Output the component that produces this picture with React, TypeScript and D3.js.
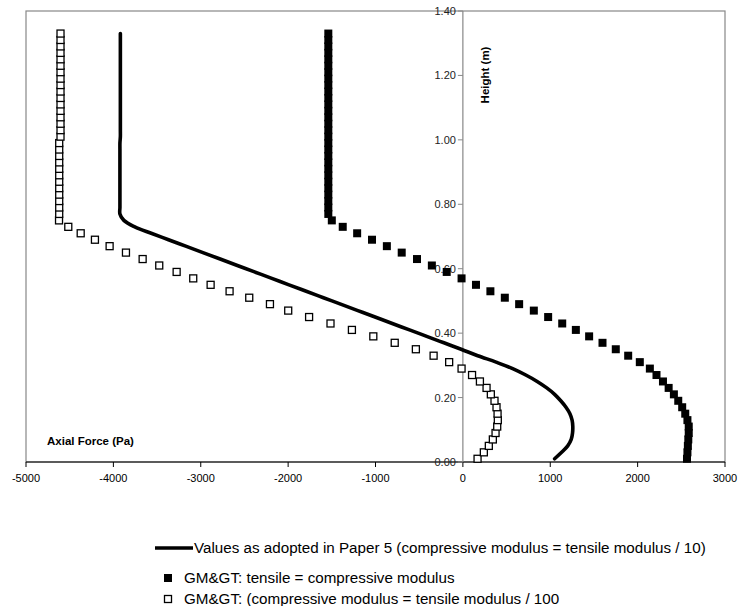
import React from "react";
import * as d3 from "d3";

const heights = [0.01,0.03,0.05,0.07,0.09,0.11,0.13,0.15,0.17,0.19,0.21,0.23,0.25,0.27,0.29,0.31,0.33,0.35,0.37,0.39,0.41,0.43,0.45,0.47,0.49,0.51,0.53,0.55,0.57,0.59,0.61,0.63,0.65,0.67,0.69,0.71,0.73,0.75,0.77,0.79,0.81,0.83,0.85,0.87,0.89,0.91,0.93,0.95,0.97,0.99,1.01,1.03,1.05,1.07,1.09,1.11,1.13,1.15,1.17,1.19,1.21,1.23,1.25,1.27,1.29,1.31,1.33];

const paper5 = [1050,1130,1200,1240,1255,1258,1250,1225,1180,1120,1050,960,850,720,570,380,170,-20,-217,-414,-611,-808,-1005,-1202,-1399,-1596,-1793,-1990,-2187,-2384,-2581,-2778,-2975,-3172,-3369,-3567,-3755,-3880,-3925,-3925,-3925,-3925,-3925,-3925,-3925,-3925,-3925,-3925,-3925,-3925,-3920,-3920,-3920,-3920,-3920,-3920,-3920,-3920,-3920,-3920,-3920,-3920,-3920,-3920,-3920,-3920,-3920];

const tensileEq = [2565,2570,2575,2580,2585,2585,2570,2545,2510,2465,2415,2355,2290,2216,2140,2025,1892,1750,1598,1445,1293,1137,976,812,644,480,315,150,-15,-185,-355,-525,-700,-870,-1040,-1210,-1375,-1500,-1540,-1540,-1540,-1540,-1540,-1540,-1540,-1540,-1540,-1540,-1540,-1540,-1540,-1540,-1540,-1540,-1540,-1540,-1540,-1540,-1540,-1540,-1540,-1540,-1540,-1540,-1540,-1540,-1540];

const compHundredth = [168,240,297,343,374,393,400,397,385,362,320,271,195,105,-15,-157,-335,-538,-780,-1025,-1270,-1515,-1760,-1999,-2208,-2445,-2670,-2887,-3086,-3276,-3475,-3665,-3856,-4043,-4211,-4374,-4516,-4622,-4620,-4620,-4620,-4620,-4620,-4620,-4620,-4620,-4620,-4620,-4620,-4620,-4605,-4605,-4605,-4605,-4605,-4605,-4605,-4605,-4605,-4605,-4605,-4605,-4605,-4605,-4605,-4605,-4605];

const xTicks = [-5000,-4000,-3000,-2000,-1000,0,1000,2000,3000];
const yTicks = [0,0.2,0.4,0.6,0.8,1.0,1.2,1.4];

const legendLabels = [
  "Values as adopted in Paper 5 (compressive modulus = tensile modulus / 10)",
  "GM&GT: tensile = compressive modulus",
  "GM&GT: (compressive modulus = tensile modulus / 100",
];

const FONT = "'Liberation Sans', Arial, sans-serif";

export default function App() {
  const W = 739, H = 606;
  const x = d3.scaleLinear().domain([-5000, 3000]).range([26, 725]);
  const y = d3.scaleLinear().domain([0, 1.4]).range([462, 11]);
  const x0 = x(0);

  const linePts: [number, number][] = heights.map((h, i) => [paper5[i], h]);
  const lineGen = d3.line<[number, number]>()
    .x(d => x(d[0]))
    .y(d => y(d[1]))
    .curve(d3.curveCatmullRom);

  const sq = 8;
  const hsq = 7;

  return (
    <svg width={W} height={H} style={{ position: "absolute", left: 0, top: 0, background: "#fff" }} fontFamily={FONT}>
      {/* plot frame */}
      <rect x={26} y={11} width={725 - 26} height={462 - 11} fill="none" stroke="#888" strokeWidth={1.2} />
      {/* x axis */}
      <line x1={26} x2={725} y1={462} y2={462} stroke="#000" strokeWidth={1.2} />
      {xTicks.map(t => (
        <g key={"xt" + t}>
          <line x1={x(t)} x2={x(t)} y1={462} y2={467} stroke="#000" />
          <text x={x(t)} y={482} fontSize={11} textAnchor="middle" fill="#000">{t}</text>
        </g>
      ))}
      {/* y axis */}
      <line x1={x0} x2={x0} y1={11} y2={462} stroke="#888" strokeWidth={1.2} />
      {yTicks.map(t => (
        <g key={"yt" + t}>
          <line x1={x0 - 5} x2={x0} y1={y(t)} y2={y(t)} stroke="#888" />
          <text x={x0 - 7} y={y(t) + 4} fontSize={11} textAnchor="end" fill="#222">{t.toFixed(2)}</text>
        </g>
      ))}
      <text transform={`translate(${x0 + 26},75) rotate(-90)`} fontSize={11.5} fontWeight="bold" textAnchor="middle">Height (m)</text>
      <text x={47} y={445} fontSize={11.5} fontWeight="bold">Axial Force (Pa)</text>

      {/* series: hollow squares */}
      {heights.map((h, i) => (
        <rect key={"h" + i} x={x(compHundredth[i]) - hsq / 2} y={y(h) - hsq / 2} width={hsq} height={hsq}
          fill="#fff" stroke="#000" strokeWidth={1.3} />
      ))}
      {/* filled squares */}
      {heights.map((h, i) => (
        <rect key={"f" + i} x={x(tensileEq[i]) - sq / 2} y={y(h) - sq / 2} width={sq} height={sq} fill="#000" />
      ))}
      {/* line */}
      <path d={lineGen(linePts) || ""} fill="none" stroke="#000" strokeWidth={3.6} strokeLinecap="round" strokeLinejoin="round" />

      {/* legend */}
      <line x1={155} x2={193} y1={548} y2={548} stroke="#000" strokeWidth={3.6} />
      <text x={194} y={553} fontSize={15.2} fill="#000">{legendLabels[0]}</text>
      <rect x={168 - 4} y={578 - 4} width={8} height={8} fill="#000" />
      <text x={184} y={583} fontSize={15.2} fill="#000">{legendLabels[1]}</text>
      <rect x={168 - 3.5} y={599 - 3.5} width={7} height={7} fill="#fff" stroke="#000" strokeWidth={1.3} />
      <text x={184} y={604} fontSize={15.2} fill="#000">{legendLabels[2]}</text>
    </svg>
  );
}
